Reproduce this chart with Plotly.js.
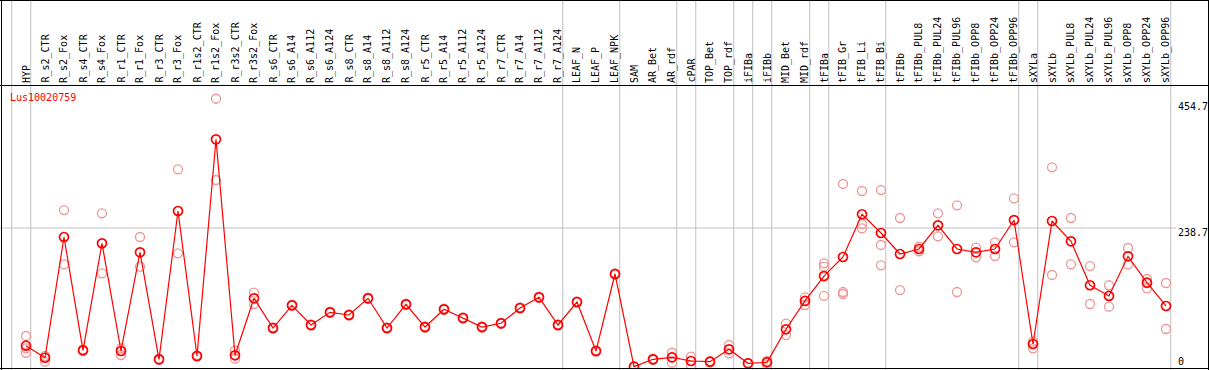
<!DOCTYPE html>
<html>
<head>
<meta charset="utf-8">
<script src="https://cdn.plot.ly/plotly-3.0.1.min.js"></script>
<style>html,body{margin:0;padding:0;background:#fff;}#chart{width:1209px;height:370px;}</style>
</head>
<body>
<div id="chart"></div>
<script>
var categories = ["HYP","R_s2_CTR","R_s2_Fox","R_s4_CTR","R_s4_Fox","R_r1_CTR","R_r1_Fox","R_r3_CTR","R_r3_Fox",
  "R_r1s2_CTR","R_r1s2_Fox","R_r3s2_CTR","R_r3s2_Fox","R_s6_CTR","R_s6_A14","R_s6_A112","R_s6_A124",
  "R_s8_CTR","R_s8_A14","R_s8_A112","R_s8_A124","R_r5_CTR","R_r5_A14","R_r5_A112","R_r5_A124",
  "R_r7_CTR","R_r7_A14","R_r7_A112","R_r7_A124","LEAF_N","LEAF_P","LEAF_NPK","SAM","AR_Bet","AR_rdf",
  "cPAR","TOP_Bet","TOP_rdf","iFIBa","iFIBb","MID_Bet","MID_rdf","tFIBa","tFIB_Gr","tFIB_Li","tFIB_Bi",
  "tFIBb","tFIBb_PUL8","tFIBb_PUL24","tFIBb_PUL96","tFIBb_OPP8","tFIBb_OPP24","tFIBb_OPP96",
  "sXYLa","sXYLb","sXYLb_PUL8","sXYLb_PUL24","sXYLb_PUL96","sXYLb_OPP8","sXYLb_OPP24","sXYLb_OPP96"];

var meanValues = [36.3,15.6,223.2,28.4,212.4,27.2,196.9,12.9,267.9,18.6,391.2,19.8,117.8,66.7,105.8,71.9,93.7,
  89.1,117.8,66.7,107.5,68.4,98.9,83.9,68.4,74.8,101.1,119.5,71.9,111.4,27.2,159.6,0.2,12.9,16.3,
  10.0,8.8,30.1,6.0,7.7,64.5,113.2,156.1,188.8,262.3,230.1,194.0,202.6,243.3,202.6,196.9,202.6,252.4,
  39.2,250.7,215.8,140.2,121.8,190.0,144.6,104.6];

var rep1 = [53.0,18.6,269.6,29.4,264.0,31.8,223.2,13.9,339.6,19.6,461.0,27.7,127.4,67.7,106.8,72.9,94.7,
  90.1,118.8,67.7,108.5,69.4,99.9,84.9,69.4,75.8,102.1,120.5,72.9,112.4,28.2,160.6,0.2,13.9,24.2,
  17.4,9.8,37.5,6.5,10.0,74.1,119.5,178.0,314.4,302.3,304.0,255.9,206.5,264.0,277.7,204.8,214.1,289.8,
  43.2,343.1,255.9,173.3,140.2,204.3,151.0,144.1];

var rep2 = [31.8,8.8,176.3,27.4,160.8,20.3,172.1,11.9,195.2,17.6,321.2,13.9,108.0,65.7,104.8,70.9,92.7,
  88.1,116.8,65.7,106.5,67.4,97.9,82.9,67.4,73.8,100.1,118.5,70.9,110.4,26.2,158.6,0.2,11.9,7.1,
  1.9,7.8,23.2,5.5,3.1,54.7,106.3,172.1,128.6,245.6,209.5,132.0,198.7,224.4,128.6,188.3,190.5,214.1,
  31.8,157.9,176.3,108.0,103.4,176.3,135.0,65.0];

var rep3 = [24.0,null,null,null,null,null,null,null,null,null,null,null,null,null,null,null,null,
  null,null,null,null,null,null,null,null,null,null,null,null,null,null,null,null,null,16.3,
  null,null,null,null,null,null,null,121.8,125.2,238.2,174.5,null,null,null,null,null,null,null,
  null,null,null,null,null,null,null,null];

var geneName = "Lus10020759";
var yTickLabels = ["454.7","238.7","0"];
var yTickValues = [454.7,238.7,0];
// index (0-based) of the last category in each group
var groupEnds = [-1,0,28,31,34,35,37,38,39,41,42,45,52,53,60];

var W = 1209, H = 370;
var xIdx = categories.map(function(_, i){ return i; });
var py = function(p){ return 1 - p / H; };

var repX = [], repY = [];
[rep1, rep2, rep3].forEach(function(arr){
  arr.forEach(function(v, i){ if (v !== null) { repX.push(i); repY.push(v); } });
});

var traces = [
  { x: repX, y: repY, type: 'scatter', mode: 'markers', hoverinfo: 'skip',
    marker: { symbol: 'circle-open', size: 9, color: 'rgb(238,150,150)', line: { width: 1.3, color: 'rgb(238,150,150)' } } },
  { x: xIdx, y: meanValues, type: 'scatter', mode: 'lines+markers',
    line: { color: '#ff0000', width: 1.2 },
    marker: { symbol: 'circle-open', size: 9, color: '#ff0000', line: { width: 1.7, color: '#ff0000' } } }
];

var annotations = categories.map(function(c, i){
  return { x: i, xref: 'x', y: py(84), yref: 'paper', text: c, showarrow: false, textangle: -90,
    xanchor: 'center', yanchor: 'bottom', borderpad: 0,
    font: { family: 'DejaVu Sans Mono', size: 10, color: '#000' } };
});
var yLabelPix = [106.7, 232.3, 361.7];
yTickLabels.forEach(function(t, k){
  annotations.push({ x: 1177 / W, xref: 'paper', y: py(yLabelPix[k]), yref: 'paper', text: t, showarrow: false,
    xanchor: 'left', yanchor: 'middle', borderpad: 0,
    font: { family: 'DejaVu Sans Mono', size: 10, color: '#000' } });
});
annotations.push({ x: 9 / W, xref: 'paper', y: py(97), yref: 'paper', text: geneName, showarrow: false,
  xanchor: 'left', yanchor: 'middle', borderpad: 0,
  font: { family: 'DejaVu Sans Mono', size: 10, color: '#ff0000' } });

var shapes = [];
groupEnds.forEach(function(g){
  shapes.push({ type: 'line', xref: 'x', yref: 'paper', x0: g + 0.25, x1: g + 0.25, y0: 0, y1: 1,
    line: { color: '#c0c0c0', width: 1 }, layer: 'below' });
});
shapes.push({ type: 'line', xref: 'paper', yref: 'y', x0: 0, x1: 1176 / W, y0: yTickValues[1], y1: yTickValues[1],
  line: { color: '#c0c0c0', width: 1 }, layer: 'below' });
var black = { color: '#000', width: 1 };
shapes.push({ type: 'line', xref: 'paper', yref: 'paper', x0: 1.5 / W, x1: 1.5 / W, y0: 0, y1: 1, line: black });
shapes.push({ type: 'line', xref: 'paper', yref: 'paper', x0: 1208.5 / W, x1: 1208.5 / W, y0: 0, y1: 1, line: black });
shapes.push({ type: 'line', xref: 'paper', yref: 'paper', x0: 0, x1: 1, y0: py(0.5), y1: py(0.5), line: black });
shapes.push({ type: 'line', xref: 'paper', yref: 'paper', x0: 0, x1: 1, y0: py(85.5), y1: py(85.5), line: black });
shapes.push({ type: 'line', xref: 'paper', yref: 'paper', x0: 0, x1: 1, y0: py(368.5), y1: py(368.5), line: black });

var layout = {
  width: W, height: H, autosize: false,
  margin: { l: 0, r: 0, t: 0, b: 0, pad: 0 },
  paper_bgcolor: '#fff', plot_bgcolor: '#fff',
  showlegend: false,
  xaxis: { range: [-26 / 19, (W - 26) / 19], visible: false, showgrid: false, zeroline: false, fixedrange: true },
  yaxis: { domain: [1 - 369 / H, 1 - 85 / H], range: [(366.8 - 369) / 0.5815, (366.8 - 85) / 0.5815],
    visible: false, showgrid: false, zeroline: false, fixedrange: true },
  annotations: annotations,
  shapes: shapes
};

Plotly.newPlot('chart', traces, layout, { staticPlot: true, displayModeBar: false });
</script>
</body>
</html>
